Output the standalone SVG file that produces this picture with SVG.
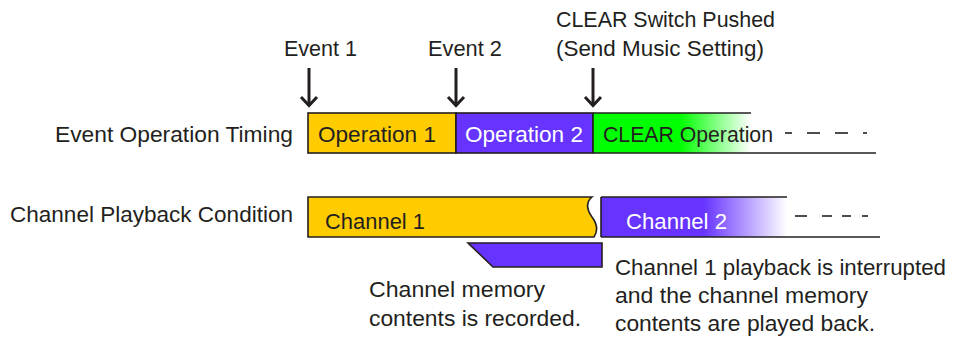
<svg xmlns="http://www.w3.org/2000/svg" width="957" height="338" viewBox="0 0 957 338">
<style>
text{font-family:"Liberation Sans",Arial,sans-serif;font-size:22px;fill:#231F20}
.w{fill:#fff}
.ln{stroke:#231F20;stroke-width:1.6;fill:none}
.box{stroke:#231F20;stroke-width:1.6}
.arr{stroke:#231F20;stroke-width:3;fill:none}
.dash{stroke:#231F20;stroke-width:1.6}
</style>
<defs>
<linearGradient id="gG" gradientUnits="userSpaceOnUse" x1="593" y1="0" x2="751" y2="0">
<stop offset="0" stop-color="#00FF00"/><stop offset="0.55" stop-color="#00FF00"/><stop offset="1" stop-color="#FFFFFF"/>
</linearGradient>
<linearGradient id="gP" gradientUnits="userSpaceOnUse" x1="601" y1="0" x2="787" y2="0">
<stop offset="0" stop-color="#6633FF"/><stop offset="0.55" stop-color="#6633FF"/><stop offset="1" stop-color="#FFFFFF"/>
</linearGradient>
<g id="ah"><line x1="0" y1="-39" x2="0" y2="-2" class="arr"/><polyline points="-8,-10 0,-1.5 8,-10" class="arr"/></g>
</defs>

<g id="labels">
<text x="55" y="142" textLength="238" lengthAdjust="spacingAndGlyphs">Event Operation Timing</text>
<text x="10" y="222" textLength="283" lengthAdjust="spacingAndGlyphs">Channel Playback Condition</text>
</g>

<g id="event1"><text x="284" y="56" textLength="73" lengthAdjust="spacingAndGlyphs">Event 1</text></g>
<g id="event2"><text x="428" y="56" textLength="74" lengthAdjust="spacingAndGlyphs">Event 2</text></g>
<g id="clearSwitch"><text x="556" y="27" textLength="219" lengthAdjust="spacingAndGlyphs">CLEAR Switch Pushed</text><text x="556" y="56" textLength="208" lengthAdjust="spacingAndGlyphs">(Send Music Setting)</text></g>

<g id="connectors">
<use href="#ah" x="309" y="107"/>
<use href="#ah" x="456" y="107"/>
<use href="#ah" x="593" y="107"/>
</g>

<g id="operation1"><rect x="308" y="113" width="148" height="40" fill="#FFCC00" class="box"/><text x="318" y="142" textLength="118" lengthAdjust="spacingAndGlyphs">Operation 1</text></g>
<g id="operation2"><rect x="456" y="113" width="137" height="40" fill="#6633FF" class="box"/><text x="465" y="142" class="w" textLength="118" lengthAdjust="spacingAndGlyphs">Operation 2</text></g>
<g id="clearOperation">
<rect x="593" y="113" width="158" height="40" fill="url(#gG)"/>
<line x1="593" y1="113" x2="751" y2="113" class="ln"/>
<line x1="593" y1="153" x2="876" y2="153" class="ln"/>
<line x1="593" y1="113" x2="593" y2="153" class="ln"/>
<text x="603" y="142" textLength="170" lengthAdjust="spacingAndGlyphs">CLEAR Operation</text>
<line x1="785" y1="133" x2="792" y2="133" class="dash"/>
<line x1="807" y1="133" x2="820" y2="133" class="dash"/>
<line x1="835" y1="133" x2="848" y2="133" class="dash"/>
<line x1="863" y1="133" x2="867" y2="133" class="dash"/>
</g>

<g id="channel1"><path d="M308,197 L592,197 C585,203 587,210 592,217 C598,225 598,231 594,237 L308,237 Z" fill="#FFCC00" class="box"/><text x="325" y="229" textLength="100" lengthAdjust="spacingAndGlyphs">Channel 1</text></g>
<g id="channel2">
<rect x="601" y="197" width="186" height="40" fill="url(#gP)"/>
<line x1="601" y1="197" x2="787" y2="197" class="ln"/>
<line x1="601" y1="237" x2="880" y2="237" class="ln"/>
<line x1="601" y1="197" x2="601" y2="237" class="ln"/>
<text x="626" y="229" class="w" textLength="101" lengthAdjust="spacingAndGlyphs">Channel 2</text>
<line x1="795" y1="216" x2="807" y2="216" class="dash"/>
<line x1="822" y1="216" x2="832" y2="216" class="dash"/>
<line x1="842" y1="216" x2="851" y2="216" class="dash"/>
<line x1="862" y1="216" x2="868" y2="216" class="dash"/>
</g>

<g id="memory"><polygon points="468,243 602,243 602,267 493,267" fill="#6633FF" class="box"/></g>

<g id="noteRecorded"><text x="369" y="297" textLength="176" lengthAdjust="spacingAndGlyphs">Channel memory</text><text x="369" y="326" textLength="212" lengthAdjust="spacingAndGlyphs">contents is recorded.</text></g>
<g id="notePlayed"><text x="615" y="275" textLength="331" lengthAdjust="spacingAndGlyphs">Channel 1 playback is interrupted</text><text x="615" y="303" textLength="253" lengthAdjust="spacingAndGlyphs">and the channel memory</text><text x="615" y="331" textLength="260" lengthAdjust="spacingAndGlyphs">contents are played back.</text></g>
</svg>
